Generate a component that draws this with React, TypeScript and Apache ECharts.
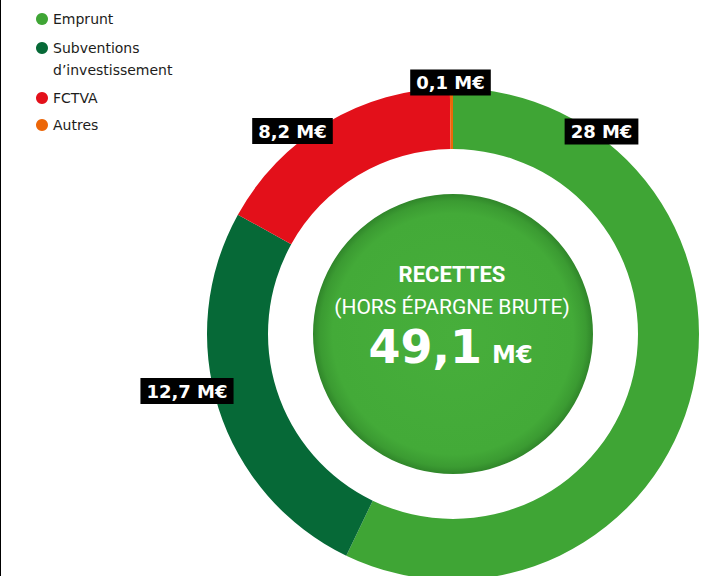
import React, { useEffect, useRef } from "react";
import * as echarts from "echarts";

// ---- data ----
const categories = ["Emprunt", "Subventions d’investissement", "FCTVA", "Autres"];
const values = [28, 12.7, 8.2, 0.1];
const totalValue = "49,1";
const unit = "M€";
const titleLines = ["RECETTES", "(HORS ÉPARGNE BRUTE)"];

// ---- styles / layout ----
const colors = ["#3fa535", "#066937", "#e3101a", "#ec6608"];
const CX = 453;
const CY = 334;
const R_OUT = 246;
const R_IN = 185;
const R_DISK = 140;
// label box centres (layout, not data)
const labelPos: [number, number][] = [
  [601.5, 131.5],
  [187, 391],
  [292.5, 131],
  [450.5, 82.5],
];

const fmt = (v: number) => `${String(v).replace(".", ",")} ${unit}`;

const legendText = {
  fontFamily: "DejaVu Sans",
  fontSize: 14,
  lineHeight: 22,
  color: "#1d1d1b",
};

export default function App() {
  const ref = useRef<HTMLDivElement>(null);
  useEffect(() => {
    if (!ref.current) return;
    const chart = echarts.init(ref.current, undefined, { renderer: "svg" });
    const subName = categories[1];
    const [subFirst, subSecond] = [
      subName.slice(0, subName.indexOf(" ")),
      subName.slice(subName.indexOf(" ") + 1),
    ];
    const legendBase = {
      orient: "vertical",
      left: 36,
      padding: 0,
      itemWidth: 12,
      itemHeight: 12,
      icon: "circle",
      selectedMode: false,
      textStyle: legendText,
      formatter: (name: string) => (name === subName ? subFirst : name),
    };
    chart.setOption({
      animation: false,
      backgroundColor: "#ffffff",
      legend: [
        { ...legendBase, top: 8, itemGap: 7, data: categories.slice(0, 2) },
        { ...legendBase, top: 87, itemGap: 5, data: categories.slice(2) },
      ],
      series: [
        {
          type: "pie",
          silent: true,
          center: [CX, CY],
          radius: [0, R_DISK],
          label: { show: false },
          labelLine: { show: false },
          itemStyle: {
            color: new echarts.graphic.RadialGradient(0.5, 0.5, 0.5, [
              { offset: 0, color: "#47ae3b" },
              { offset: 0.86, color: "#43aa38" },
              { offset: 0.95, color: "#3b9b32" },
              { offset: 1, color: "#30862a" },
            ]),
          },
          data: [{ value: 1, name: "_disk" }],
        },
        {
          type: "pie",
          center: [CX, CY],
          radius: [R_IN, R_OUT],
          startAngle: 90,
          clockwise: true,
          avoidLabelOverlap: false,
          itemStyle: { borderWidth: 0 },
          data: categories.map((c, i) => ({
            name: c,
            value: values[i],
            itemStyle: { color: colors[i] },
          })),
          label: {
            show: true,
            position: "outside",
            formatter: (p: any) => fmt(p.value),
            color: "#ffffff",
            backgroundColor: "#000000",
            fontFamily: "DejaVu Sans",
            fontWeight: "bold",
            fontSize: 18,
            lineHeight: 18,
            padding: [4, 6, 4, 6],
          },
          labelLine: { show: false },
          labelLayout: (params: any) => {
            const p = labelPos[params.dataIndex];
            return { x: p[0], y: p[1], align: "center", verticalAlign: "middle" };
          },
        },
      ],
      graphic: [
        {
          type: "line",
          z: 100,
          shape: { x1: 0.5, y1: 0, x2: 0.5, y2: 576 },
          style: { stroke: "#000000", lineWidth: 1 },
          silent: true,
        },
        {
          type: "text",
          z: 100,
          x: 53,
          y: 70,
          style: {
            text: subSecond,
            fill: legendText.color,
            fontFamily: legendText.fontFamily,
            fontSize: legendText.fontSize,
            align: "left",
            verticalAlign: "middle",
          },
        },
        {
          type: "text",
          z: 100,
          x: CX - 1,
          y: 274.5,
          style: {
            text: titleLines[0],
            fill: "#ffffff",
            fontFamily: "Roboto",
            fontWeight: "bold",
            fontSize: 22,
            align: "center",
            verticalAlign: "middle",
          },
        },
        {
          type: "text",
          z: 100,
          x: CX - 1,
          y: 307,
          style: {
            text: titleLines[1],
            fill: "#ffffff",
            fontFamily: "Roboto",
            fontSize: 21,
            align: "center",
            verticalAlign: "middle",
          },
        },
        {
          type: "text",
          z: 100,
          x: 482,
          y: 347,
          style: {
            text: totalValue,
            fill: "#ffffff",
            fontFamily: "DejaVu Sans",
            fontWeight: "bold",
            fontSize: 46,
            align: "right",
            verticalAlign: "middle",
          },
        },
        {
          type: "text",
          z: 100,
          x: 492,
          y: 355,
          style: {
            text: unit,
            fill: "#ffffff",
            fontFamily: "DejaVu Sans",
            fontWeight: "bold",
            fontSize: 24,
            align: "left",
            verticalAlign: "middle",
          },
        },
      ],
    });
    return () => chart.dispose();
  }, []);
  return (
    <div
      ref={ref}
      style={{ position: "fixed", left: 0, top: 0, width: 716, height: 576 }}
    />
  );
}
